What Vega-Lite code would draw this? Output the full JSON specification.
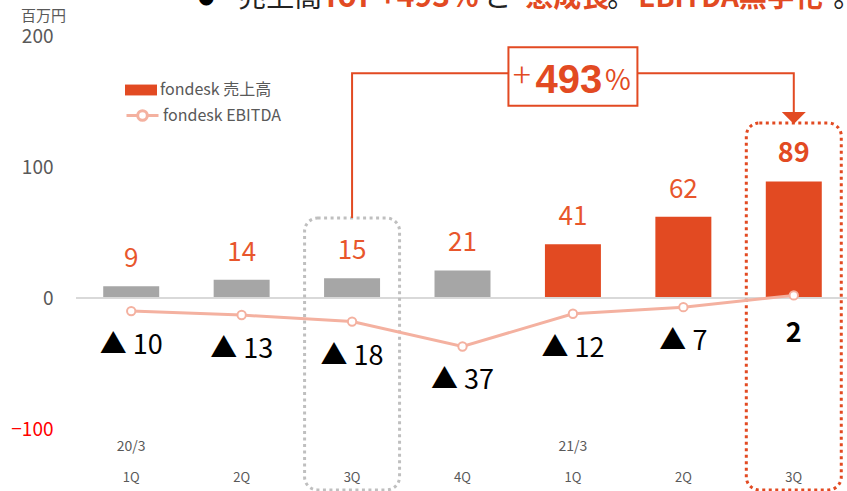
{
  "$schema": "https://vega.github.io/schema/vega-lite/v6.json",
  "width": 773,
  "height": 393,
  "autosize": {"type": "none"},
  "padding": {"left": 76, "top": 36, "right": 0, "bottom": 62},
  "background": "white",
  "config": {
    "view": {"stroke": null},
    "font": "Noto Sans CJK JP",
    "axisX": {"ticks": false, "domain": false, "grid": false, "labelFontSize": 13, "labelColor": "#595959", "labelPadding": 42, "labelAngle": 0, "labelFont": "Noto Sans CJK JP"},
    "axisY": {"ticks": false, "domain": false, "grid": false, "labelFontSize": 19, "labelPadding": 23, "labelFont": "Noto Sans CJK JP",
      "titleAngle": 0, "titleFontSize": 15, "titleFontWeight": "normal", "titleColor": "#595959", "titleX": -33, "titleY": -21,
      "titleAlign": "center", "titleBaseline": "middle", "titleFont": "Noto Sans CJK JP"}
  },
  "datasets": {
    "quarters": [
      {"period": "20/3-1Q", "fy": "20/3", "q": "1Q", "sales": 9, "ebitda": -10, "elabel": "▲ 10", "seg": "prior"},
      {"period": "20/3-2Q", "fy": "20/3", "q": "2Q", "sales": 14, "ebitda": -13, "elabel": "▲ 13", "seg": "prior"},
      {"period": "20/3-3Q", "fy": "20/3", "q": "3Q", "sales": 15, "ebitda": -18, "elabel": "▲ 18", "seg": "prior"},
      {"period": "20/3-4Q", "fy": "20/3", "q": "4Q", "sales": 21, "ebitda": -37, "elabel": "▲ 37", "seg": "prior"},
      {"period": "21/3-1Q", "fy": "21/3", "q": "1Q", "sales": 41, "ebitda": -12, "elabel": "▲ 12", "seg": "fondesk 売上高"},
      {"period": "21/3-2Q", "fy": "21/3", "q": "2Q", "sales": 62, "ebitda": -7, "elabel": "▲ 7", "seg": "fondesk 売上高"},
      {"period": "21/3-3Q", "fy": "21/3", "q": "3Q", "sales": 89, "ebitda": 2, "elabel": "2", "seg": "fondesk 売上高"}
    ],
    "boxes": [
      {"period": "20/3-3Q", "top": 61, "bottom": -146.5, "kind": "prior"},
      {"period": "21/3-3Q", "top": 133.6, "bottom": -146.5, "kind": "now"}
    ],
    "connector": [
      {"period": "20/3-3Q", "v": 61, "step": 1},
      {"period": "20/3-3Q", "v": 171.5, "step": 2},
      {"period": "21/3-3Q", "v": 171.5, "step": 3},
      {"period": "21/3-3Q", "v": 140, "step": 4}
    ],
    "arrow": [{"period": "21/3-3Q", "v": 137.4}],
    "growth": [{"period": "21/3-1Q", "top": 191.4, "bottom": 146.8, "plus": "+", "num": "493", "pct": "%"}],
    "headline": [
      {"period": "20/3-1Q", "v": 222.5, "seg": "●", "part": "bullet"},
      {"period": "20/3-1Q", "v": 222.5, "seg": "売上高", "part": "a"},
      {"period": "20/3-1Q", "v": 222.5, "seg": "YoY +493%", "part": "b"},
      {"period": "20/3-1Q", "v": 222.5, "seg": "と", "part": "c"},
      {"period": "20/3-1Q", "v": 222.5, "seg": "急成長", "part": "d"},
      {"period": "20/3-1Q", "v": 222.5, "seg": "。", "part": "e"},
      {"period": "20/3-1Q", "v": 222.5, "seg": "EBITDA黒字化", "part": "f"},
      {"period": "20/3-1Q", "v": 222.5, "seg": "。", "part": "g"}
    ]
  },
  "layer": [
    {
      "data": {"name": "quarters"},
      "mark": {"type": "bar", "width": {"band": 0.507}},
      "encoding": {
        "x": {
          "field": "period", "type": "nominal", "sort": null,
          "scale": {"paddingInner": 0, "paddingOuter": 0},
          "axis": {"title": null, "labelExpr": "split(datum.label, '-')[1]"}
        },
        "y": {
          "field": "sales", "type": "quantitative",
          "scale": {"domain": [-100, 200], "nice": false, "zero": false},
          "axis": {
            "title": "百万円", "values": [-100, 0, 100, 200],
            "labelColor": {"condition": {"test": "datum.value < 0", "value": "#FF0000"}, "value": "#595959"}
          }
        },
        "color": {
          "field": "seg", "type": "nominal",
          "scale": {"domain": ["fondesk 売上高", "prior"], "range": ["#E24A22", "#A6A6A6"]},
          "legend": {
            "values": ["fondesk 売上高"], "title": null, "orient": "none", "legendX": 49, "legendY": 38,
            "symbolType": "M-1,-0.34H1V0.34H-1Z", "symbolSize": 1024, "symbolStrokeWidth": 0, "symbolOpacity": 1,
            "labelFontSize": 16, "labelColor": "#595959", "labelOffset": 3, "labelFont": "Noto Sans CJK JP", "padding": 0
          }
        }
      }
    },
    {
      "data": {"name": "quarters"},
      "mark": {"type": "rule", "color": "#D9D9D9", "strokeWidth": 1.5},
      "encoding": {"y": {"datum": 0, "type": "quantitative", "scale": {"domain": [-100, 200]}, "axis": {"title": "百万円"}}}
    },
    {
      "data": {"name": "boxes"},
      "transform": [{"filter": "datum.kind == 'prior'"}],
      "mark": {"type": "bar", "width": {"band": 0.86}, "fill": "white", "fillOpacity": 0, "stroke": "#BFBFBF", "strokeWidth": 3, "strokeDash": [3, 3.5], "cornerRadius": 13},
      "encoding": {
        "x": {"field": "period", "type": "nominal", "sort": null, "axis": {"title": null}},
        "y": {"field": "top", "type": "quantitative", "scale": {"domain": [-100, 200]}, "axis": {"title": "百万円"}},
        "y2": {"field": "bottom"}
      }
    },
    {
      "data": {"name": "boxes"},
      "transform": [{"filter": "datum.kind == 'now'"}],
      "mark": {"type": "bar", "width": {"band": 0.86}, "fill": "white", "fillOpacity": 0, "stroke": "#E24A22", "strokeWidth": 3, "strokeDash": [3, 3.5], "cornerRadius": 13},
      "encoding": {
        "x": {"field": "period", "type": "nominal", "sort": null, "axis": {"title": null}},
        "y": {"field": "top", "type": "quantitative", "scale": {"domain": [-100, 200]}, "axis": {"title": "百万円"}},
        "y2": {"field": "bottom"}
      }
    },
    {
      "data": {"name": "connector"},
      "mark": {"type": "line", "color": "#E24A22", "strokeWidth": 2},
      "encoding": {
        "x": {"field": "period", "type": "nominal", "sort": null, "axis": {"title": null}},
        "y": {"field": "v", "type": "quantitative", "scale": {"domain": [-100, 200]}, "axis": {"title": "百万円"}},
        "order": {"field": "step", "type": "quantitative"}
      }
    },
    {
      "data": {"name": "arrow"},
      "mark": {"type": "point", "shape": "M-1,-0.5L1,-0.5L0,0.5Z", "size": 576, "filled": true, "color": "#E24A22", "opacity": 1},
      "encoding": {
        "x": {"field": "period", "type": "nominal", "sort": null, "axis": {"title": null}},
        "y": {"field": "v", "type": "quantitative", "scale": {"domain": [-100, 200]}, "axis": {"title": "百万円"}}
      }
    },
    {
      "data": {"name": "quarters"},
      "mark": {"type": "line", "strokeWidth": 3},
      "encoding": {
        "x": {"field": "period", "type": "nominal", "sort": null, "axis": {"title": null}},
        "y": {"field": "ebitda", "type": "quantitative", "scale": {"domain": [-100, 200]}, "axis": {"title": "百万円"}},
        "stroke": {
          "datum": "fondesk EBITDA", "type": "nominal",
          "scale": {"range": ["#F4B1A0"]},
          "legend": {
            "title": null, "orient": "none", "legendX": 49, "legendY": 62,
            "symbolType": "M-1,0H-0.3M0.3,0H1M0.3,0A0.3,0.3,0,1,1,-0.3,0A0.3,0.3,0,1,1,0.3,0",
            "symbolSize": 1024, "symbolStrokeWidth": 3, "symbolFillColor": "white",
            "labelFontSize": 16, "labelColor": "#595959", "labelOffset": 3, "labelFont": "Noto Sans CJK JP", "padding": 0
          }
        }
      }
    },
    {
      "data": {"name": "quarters"},
      "mark": {"type": "point", "filled": false, "fill": "white", "fillOpacity": 1, "stroke": "#F4B1A0", "strokeWidth": 2, "size": 70, "opacity": 1},
      "encoding": {
        "x": {"field": "period", "type": "nominal", "sort": null, "axis": {"title": null}},
        "y": {"field": "ebitda", "type": "quantitative", "scale": {"domain": [-100, 200]}, "axis": {"title": "百万円"}}
      }
    },
    {
      "data": {"name": "quarters"},
      "transform": [{"filter": "datum.period != '21/3-3Q'"}],
      "mark": {"type": "text", "color": "#E8562C", "fontSize": 26, "baseline": "alphabetic", "dy": -19, "font": "Noto Sans CJK JP"},
      "encoding": {
        "x": {"field": "period", "type": "nominal", "sort": null, "axis": {"title": null}},
        "y": {"field": "sales", "type": "quantitative", "scale": {"domain": [-100, 200]}, "axis": {"title": "百万円"}},
        "text": {"field": "sales"}
      }
    },
    {
      "data": {"name": "quarters"},
      "transform": [{"filter": "datum.period == '21/3-3Q'"}],
      "mark": {"type": "text", "color": "#E24A22", "fontSize": 27, "fontWeight": "bold", "baseline": "alphabetic", "dy": -19, "font": "Noto Sans CJK JP"},
      "encoding": {
        "x": {"field": "period", "type": "nominal", "sort": null, "axis": {"title": null}},
        "y": {"field": "sales", "type": "quantitative", "scale": {"domain": [-100, 200]}, "axis": {"title": "百万円"}},
        "text": {"field": "sales"}
      }
    },
    {
      "data": {"name": "quarters"},
      "transform": [{"filter": "datum.period != '21/3-3Q'"}],
      "mark": {"type": "text", "color": "black", "fontSize": 27, "baseline": "alphabetic", "dy": 43, "font": "Noto Sans CJK JP"},
      "encoding": {
        "x": {"field": "period", "type": "nominal", "sort": null, "axis": {"title": null}},
        "y": {"field": "ebitda", "type": "quantitative", "scale": {"domain": [-100, 200]}, "axis": {"title": "百万円"}},
        "text": {"field": "elabel"}
      }
    },
    {
      "data": {"name": "quarters"},
      "transform": [{"filter": "datum.period == '21/3-3Q'"}],
      "mark": {"type": "text", "color": "black", "fontSize": 27, "fontWeight": "bold", "baseline": "alphabetic", "dy": 47, "font": "Noto Sans CJK JP"},
      "encoding": {
        "x": {"field": "period", "type": "nominal", "sort": null, "axis": {"title": null}},
        "y": {"field": "ebitda", "type": "quantitative", "scale": {"domain": [-100, 200]}, "axis": {"title": "百万円"}},
        "text": {"field": "elabel"}
      }
    },
    {
      "data": {"name": "quarters"},
      "transform": [{"filter": "datum.q == '1Q'"}],
      "mark": {"type": "text", "color": "#595959", "fontSize": 14, "baseline": "middle", "font": "Noto Sans CJK JP"},
      "encoding": {
        "x": {"field": "period", "type": "nominal", "sort": null, "axis": {"title": null}},
        "y": {"datum": -113.7, "type": "quantitative", "scale": {"domain": [-100, 200]}, "axis": {"title": "百万円"}},
        "text": {"field": "fy"}
      }
    },
    {
      "data": {"name": "growth"},
      "mark": {"type": "bar", "width": {"band": 1.168}, "fill": "white", "stroke": "#E24A22", "strokeWidth": 2},
      "encoding": {
        "x": {"field": "period", "type": "nominal", "sort": null, "axis": {"title": null}},
        "y": {"field": "top", "type": "quantitative", "scale": {"domain": [-100, 200]}, "axis": {"title": "百万円"}},
        "y2": {"field": "bottom"}
      }
    },
    {
      "data": {"name": "growth"},
      "mark": {"type": "text", "color": "#E24A22", "fontSize": 34, "fontWeight": 300, "baseline": "middle", "dx": -51, "font": "Noto Sans CJK JP"},
      "encoding": {
        "x": {"field": "period", "type": "nominal", "sort": null, "axis": {"title": null}},
        "y": {"datum": 168.5, "type": "quantitative", "scale": {"domain": [-100, 200]}, "axis": {"title": "百万円"}},
        "text": {"field": "plus"}
      }
    },
    {
      "data": {"name": "growth"},
      "mark": {"type": "text", "color": "#E24A22", "fontSize": 40, "fontWeight": "bold", "baseline": "alphabetic", "dx": -4, "font": "Liberation Sans"},
      "encoding": {
        "x": {"field": "period", "type": "nominal", "sort": null, "axis": {"title": null}},
        "y": {"datum": 156.4, "type": "quantitative", "scale": {"domain": [-100, 200]}, "axis": {"title": "百万円"}},
        "text": {"field": "num"}
      }
    },
    {
      "data": {"name": "growth"},
      "mark": {"type": "text", "color": "#E24A22", "fontSize": 28, "baseline": "alphabetic", "dx": 45, "font": "Noto Sans CJK JP"},
      "encoding": {
        "x": {"field": "period", "type": "nominal", "sort": null, "axis": {"title": null}},
        "y": {"datum": 159, "type": "quantitative", "scale": {"domain": [-100, 200]}, "axis": {"title": "百万円"}},
        "text": {"field": "pct"}
      }
    },
    {
      "data": {"name": "headline"},
      "transform": [{"filter": "datum.part == 'bullet'"}],
      "mark": {"type": "text", "color": "black", "fontSize": 16, "align": "left", "baseline": "alphabetic", "dx": 67, "dy": -3},
      "encoding": {
        "x": {"field": "period", "type": "nominal", "sort": null, "axis": {"title": null}},
        "y": {"field": "v", "type": "quantitative", "scale": {"domain": [-100, 200]}, "axis": {"title": "百万円"}},
        "text": {"field": "seg"}
      }
    },
    {
      "data": {"name": "headline"},
      "transform": [{"filter": "datum.part == 'a'"}],
      "mark": {"type": "text", "color": "#222222", "fontSize": 28, "align": "left", "baseline": "alphabetic", "dx": 107},
      "encoding": {
        "x": {"field": "period", "type": "nominal", "sort": null, "axis": {"title": null}},
        "y": {"field": "v", "type": "quantitative", "scale": {"domain": [-100, 200]}, "axis": {"title": "百万円"}},
        "text": {"field": "seg"}
      }
    },
    {
      "data": {"name": "headline"},
      "transform": [{"filter": "datum.part == 'b'"}],
      "mark": {"type": "text", "color": "#E24A22", "fontSize": 30, "fontWeight": "bold", "align": "left", "baseline": "alphabetic", "dx": 191},
      "encoding": {
        "x": {"field": "period", "type": "nominal", "sort": null, "axis": {"title": null}},
        "y": {"field": "v", "type": "quantitative", "scale": {"domain": [-100, 200]}, "axis": {"title": "百万円"}},
        "text": {"field": "seg"}
      }
    },
    {
      "data": {"name": "headline"},
      "transform": [{"filter": "datum.part == 'c'"}],
      "mark": {"type": "text", "color": "#222222", "fontSize": 28, "align": "left", "baseline": "alphabetic", "dx": 352},
      "encoding": {
        "x": {"field": "period", "type": "nominal", "sort": null, "axis": {"title": null}},
        "y": {"field": "v", "type": "quantitative", "scale": {"domain": [-100, 200]}, "axis": {"title": "百万円"}},
        "text": {"field": "seg"}
      }
    },
    {
      "data": {"name": "headline"},
      "transform": [{"filter": "datum.part == 'd'"}],
      "mark": {"type": "text", "color": "#E24A22", "fontSize": 28, "fontWeight": "bold", "align": "left", "baseline": "alphabetic", "dx": 394},
      "encoding": {
        "x": {"field": "period", "type": "nominal", "sort": null, "axis": {"title": null}},
        "y": {"field": "v", "type": "quantitative", "scale": {"domain": [-100, 200]}, "axis": {"title": "百万円"}},
        "text": {"field": "seg"}
      }
    },
    {
      "data": {"name": "headline"},
      "transform": [{"filter": "datum.part == 'e'"}],
      "mark": {"type": "text", "color": "#222222", "fontSize": 28, "align": "left", "baseline": "alphabetic", "dx": 476},
      "encoding": {
        "x": {"field": "period", "type": "nominal", "sort": null, "axis": {"title": null}},
        "y": {"field": "v", "type": "quantitative", "scale": {"domain": [-100, 200]}, "axis": {"title": "百万円"}},
        "text": {"field": "seg"}
      }
    },
    {
      "data": {"name": "headline"},
      "transform": [{"filter": "datum.part == 'f'"}],
      "mark": {"type": "text", "color": "#E24A22", "fontSize": 28, "fontWeight": "bold", "align": "left", "baseline": "alphabetic", "dx": 507},
      "encoding": {
        "x": {"field": "period", "type": "nominal", "sort": null, "axis": {"title": null}},
        "y": {"field": "v", "type": "quantitative", "scale": {"domain": [-100, 200]}, "axis": {"title": "百万円"}},
        "text": {"field": "seg"}
      }
    },
    {
      "data": {"name": "headline"},
      "transform": [{"filter": "datum.part == 'g'"}],
      "mark": {"type": "text", "color": "#222222", "fontSize": 28, "align": "left", "baseline": "alphabetic", "dx": 702},
      "encoding": {
        "x": {"field": "period", "type": "nominal", "sort": null, "axis": {"title": null}},
        "y": {"field": "v", "type": "quantitative", "scale": {"domain": [-100, 200]}, "axis": {"title": "百万円"}},
        "text": {"field": "seg"}
      }
    }
  ]
}
